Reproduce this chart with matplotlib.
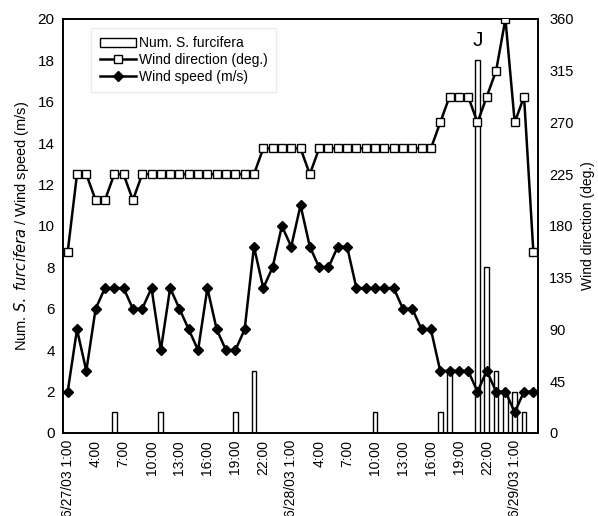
# Num. S. furcifera catches with wind direction and wind speed,
# hourly from 6/27/03 1:00 to 6/29/03 3:00

import matplotlib.pyplot as plt
import numpy as np

plt.rcParams['font.family'] = ['Liberation Sans', 'DejaVu Sans']

hours = np.arange(51)

wind_dir = [157.5, 225, 225, 202.5, 202.5, 225, 225, 202.5,
            225, 225, 225, 225, 225, 225, 225, 225, 225, 225, 225, 225, 225,
            247.5, 247.5, 247.5, 247.5, 247.5, 225,
            247.5, 247.5, 247.5, 247.5, 247.5, 247.5, 247.5, 247.5, 247.5,
            247.5, 247.5, 247.5, 247.5,
            270, 292.5, 292.5, 292.5, 270, 292.5, 315, 360, 270, 292.5, 157.5]

wind_speed = [2, 5, 3, 6, 7, 7, 7, 6, 6, 7,
              4, 7, 6, 5, 4, 7, 5, 4, 4, 5,
              9, 7, 8, 10, 9, 11, 9, 8, 8, 9,
              9, 7, 7, 7, 7, 7, 6, 6, 5, 5,
              3, 3, 3, 3, 2, 3, 2, 2, 1, 2, 2]

num_furcifera = [0, 0, 0, 0, 0, 1, 0, 0, 0, 0,
                 1, 0, 0, 0, 0, 0, 0, 0, 1, 0,
                 3, 0, 0, 0, 0, 0, 0, 0, 0, 0,
                 0, 0, 0, 1, 0, 0, 0, 0, 0, 0,
                 1, 3, 0, 0, 18, 8, 3, 2, 2, 1, 0]

tick_pos = [0, 3, 6, 9, 12, 15, 18, 21, 24, 27, 30, 33, 36, 39, 42, 45, 48]
tick_labels = ['6/27/03 1:00', '4:00', '7:00', '10:00', '13:00', '16:00',
               '19:00', '22:00', '6/28/03 1:00', '4:00', '7:00', '10:00',
               '13:00', '16:00', '19:00', '22:00', '6/29/03 1:00']

fig = plt.figure(figsize=(5.98, 5.16), dpi=100)
ax = fig.add_axes([0.1054, 0.1609, 0.7943, 0.8023])
ax2 = ax.twinx()

bars = ax.bar(hours, num_furcifera, width=0.5, color='white',
              edgecolor='black', lw=1, zorder=1)
l_speed, = ax.plot(hours, wind_speed, ls='-', lw=1.8, c='black',
                   marker='D', ms=4.8, mfc='black', mec='black', zorder=3)
l_dir, = ax2.plot(hours, wind_dir, ls='-', lw=1.8, c='black',
                  marker='s', ms=6.2, mfc='white', mec='black', mew=1,
                  zorder=3)

ax.set_xlim(-0.5, 50.5)
ax.set_ylim(0, 20)
ax.set_yticks(np.arange(0, 21, 2))
ax2.set_ylim(0, 360)
ax2.set_yticks(np.arange(0, 361, 45))
ax.set_xticks(tick_pos)
ax.set_xticklabels(tick_labels, rotation=90)
ax.tick_params(axis='both', length=0, pad=6, labelsize=11)
ax.tick_params(axis='x', labelsize=10, pad=5)
ax2.tick_params(axis='y', length=0, pad=8, labelsize=10.5)

for a in (ax, ax2):
    for s in a.spines.values():
        s.set_linewidth(1.2)

ax.set_ylabel(r'Num. $\it{S.\ furcifera}$ / Wind speed (m/s)', fontsize=10.5,
              labelpad=5)
ax2.set_ylabel('Wind direction (deg.)', fontsize=10, labelpad=5)

ax.text(44, 18.5, 'J', ha='center', va='bottom', fontsize=15)

leg = ax2.legend([bars, l_dir, l_speed],
                 ['Num. S. furcifera', 'Wind direction (deg.)',
                  'Wind speed (m/s)'],
                 loc='upper left', bbox_to_anchor=(0.045, 0.995),
                 fontsize=10, handlelength=2.6, handletextpad=0.25,
                 labelspacing=0.2, frameon=True, fancybox=False,
                 edgecolor='#e8e8e8', borderpad=0.6)
leg.get_frame().set_linewidth(1)

fig.savefig('out.png', dpi=100)
